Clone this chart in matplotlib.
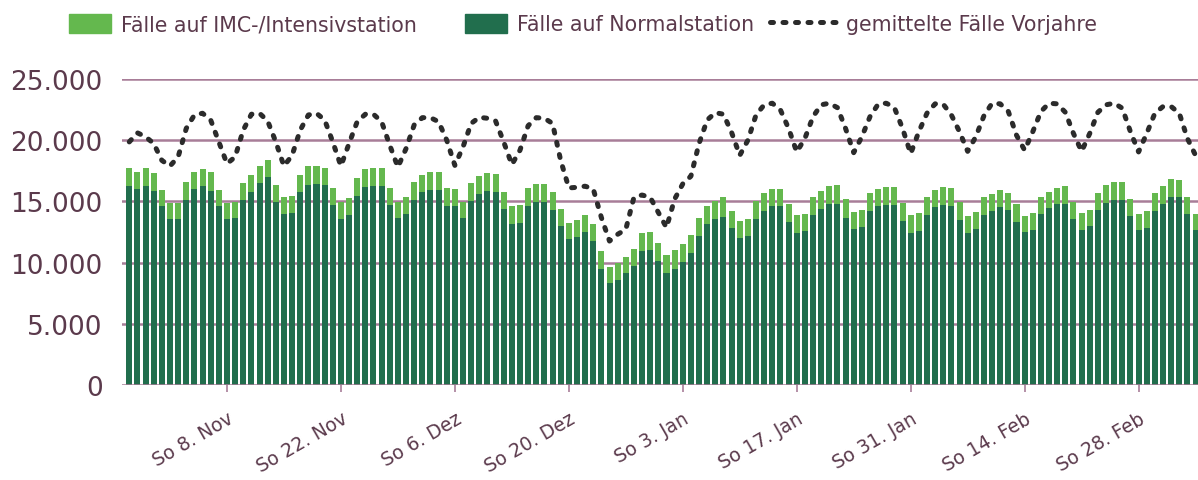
import numpy as np
import pandas as pd
import matplotlib
matplotlib.use('agg')
import matplotlib.pyplot as plt
import matplotlib.patches as mpatches
from matplotlib.lines import Line2D

# daily values, 27 Oct 2020 - 7 Mar 2021
dates = pd.date_range('2020-10-27', '2021-03-07', freq='D')

normal = [16290, 16020, 16290, 15880, 14640, 13550, 13550, 15110, 16020, 16290,
          15880, 14640, 13550, 13630, 15110, 15800, 16510, 16980, 14970, 14010,
          14090, 15800, 16350, 16430, 16350, 14700, 13600, 13880, 15470, 16210,
          16240, 16290, 14730, 13680, 14010, 15110, 15740, 15960, 15960, 14640,
          14640, 13680, 15060, 15610, 15880, 15740, 14370, 13190, 13270, 14640,
          14920, 14920, 14310, 13000, 11950, 12090, 12500, 11760, 9510, 8330,
          8600, 9150, 9750, 10940, 10990, 10110, 9150, 9510, 10030, 10800,
          12170, 13130, 13550, 13760, 12860, 12030, 12170, 13600, 14230, 14590,
          14590, 13330, 12450, 12580, 13900, 14370, 14780, 14780, 13680, 12780,
          12940, 14230, 14590, 14730, 14730, 13410, 12450, 12580, 13900, 14510,
          14730, 14640, 13490, 12450, 12780, 13900, 14230, 14510, 14310, 13350,
          12500, 12670, 13960, 14450, 14780, 14780, 13600, 12670, 13000, 14310,
          14860, 15140, 15140, 13820, 12670, 12860, 14230, 14780, 15330, 15330,
          13960, 12670]

imc = [1460, 1370, 1460, 1430, 1320, 1290, 1290, 1460, 1370, 1320,
       1510, 1320, 1310, 1290, 1370, 1370, 1380, 1430, 1400, 1320,
       1320, 1370, 1510, 1460, 1400, 1400, 1370, 1370, 1430, 1400,
       1480, 1460, 1340, 1240, 1380, 1460, 1430, 1430, 1430, 1460,
       1380, 1240, 1420, 1450, 1430, 1460, 1430, 1400, 1430, 1460,
       1510, 1510, 1490, 1370, 1320, 1370, 1400, 1430, 1430, 1310,
       1370, 1290, 1380, 1450, 1510, 1460, 1460, 1480, 1450, 1450,
       1460, 1460, 1450, 1570, 1370, 1380, 1380, 1400, 1430, 1430,
       1430, 1450, 1420, 1430, 1430, 1510, 1510, 1570, 1510, 1370,
       1370, 1460, 1430, 1480, 1420, 1450, 1420, 1510, 1430, 1450,
       1480, 1430, 1430, 1370, 1370, 1430, 1380, 1430, 1350, 1430,
       1320, 1420, 1430, 1350, 1320, 1510, 1370, 1420, 1310, 1350,
       1490, 1480, 1430, 1370, 1340, 1370, 1430, 1510, 1460, 1430,
       1370, 1290]

prior_years = [19860, 20600, 20280, 19730, 18350, 17890, 18630, 20960, 22060, 22200,
               21650, 19860, 18080, 18630, 20820, 22120, 22200, 21570, 19860, 17890,
               18760, 20820, 22060, 22200, 21650, 19860, 17890, 19730, 21510, 22120,
               22120, 21510, 19590, 17800, 19310, 21240, 21840, 21840, 21510, 20000,
               17940, 19450, 21370, 21870, 21790, 21570, 19860, 18000, 19180, 21180,
               21840, 21790, 21370, 18350, 16100, 16150, 16240, 16020, 13680, 11760,
               12310, 12720, 15330, 15520, 15330, 14100, 12860, 15190, 16430, 17060,
               19730, 21650, 22250, 22120, 20630, 18760, 20000, 22060, 22890, 23020,
               22470, 20960, 19040, 20140, 21920, 22890, 23020, 22660, 20960, 18980,
               20280, 21920, 22940, 23020, 22660, 20960, 18900, 20690, 22200, 22970,
               22940, 22060, 20690, 19090, 20280, 21990, 23020, 22970, 22340, 20410,
               19180, 20690, 22340, 23020, 22970, 22280, 20550, 19090, 20550, 22280,
               22890, 23020, 22610, 20690, 19040, 20550, 22200, 22750, 22750, 22200,
               20140, 18760]

tick_dates = pd.date_range('2020-11-08', '2021-02-28', freq='14D')
tick_labels = ['So 8. Nov', 'So 22. Nov', 'So 6. Dez', 'So 20. Dez', 'So 3. Jan',
               'So 17. Jan', 'So 31. Jan', 'So 14. Feb', 'So 28. Feb']

light_green = '#64b84e'
dark_green = '#216e4d'
grid_col = '#a87d98'
text_col = '#5b3a4c'
line_col = '#2b2b2b'
dot_style = (0, (0.6, 1.9))

plt.rcParams['font.family'] = ['DejaVu Sans']

fig = plt.figure(figsize=(11.98, 4.81), dpi=100)
ax = fig.add_axes([0.1018, 0.1975, 0.8982, 0.6362])

x = np.arange(len(dates))
ax.bar(x, normal, width=0.74, color=dark_green, zorder=2)
ax.bar(x, imc, bottom=normal, width=0.74, color=light_green, zorder=2)
ax.plot(x, prior_years, color=line_col, lw=3.6, linestyle=dot_style,
        dash_capstyle='round', zorder=3)

ax.set_xlim(-0.9, 131.3)
ax.set_ylim(0, 25000)
yt = [0, 5000, 10000, 15000, 20000, 25000]
ax.set_yticks(yt)
ax.set_yticklabels(['0', '5.000', '10.000', '15.000', '20.000', '25.000'],
                   fontsize=19, color=text_col)
for v in yt:
    ax.axhline(v, color=grid_col, lw=1.8, zorder=1 if v else 4)

tick_pos = [dates.get_loc(d) for d in tick_dates]
ax.set_xticks(tick_pos)
ax.set_xticklabels(tick_labels, rotation=30, ha='right', rotation_mode='anchor',
                   fontsize=13.5, color=text_col)
ax.tick_params(axis='x', length=5, width=1.2, color=grid_col, pad=12)
ax.tick_params(axis='y', length=0, pad=14)
for s in ax.spines.values():
    s.set_visible(False)

# legend entries placed one by one along the top
entries = [
    (mpatches.Patch(color=light_green), 'Fälle auf IMC-/Intensivstation', 69, 2.05),
    (mpatches.Patch(color=dark_green), 'Fälle auf Normalstation', 465, 2.05),
    (Line2D([0], [0], color=line_col, lw=3.6, linestyle=dot_style,
            dash_capstyle='round'), 'gemittelte Fälle Vorjahre', 770, 3.2),
]
for handle, label, xpix, hl in entries:
    leg = fig.legend([handle], [label], loc='center left',
                     bbox_to_anchor=(xpix / 1198, 1 - 25 / 481),
                     frameon=False, fontsize=14.8, borderpad=0, borderaxespad=0,
                     handlelength=hl, handleheight=1.1, handletextpad=0.5)
    for t in leg.get_texts():
        t.set_color(text_col)

fig.savefig('out.png', dpi=100)
